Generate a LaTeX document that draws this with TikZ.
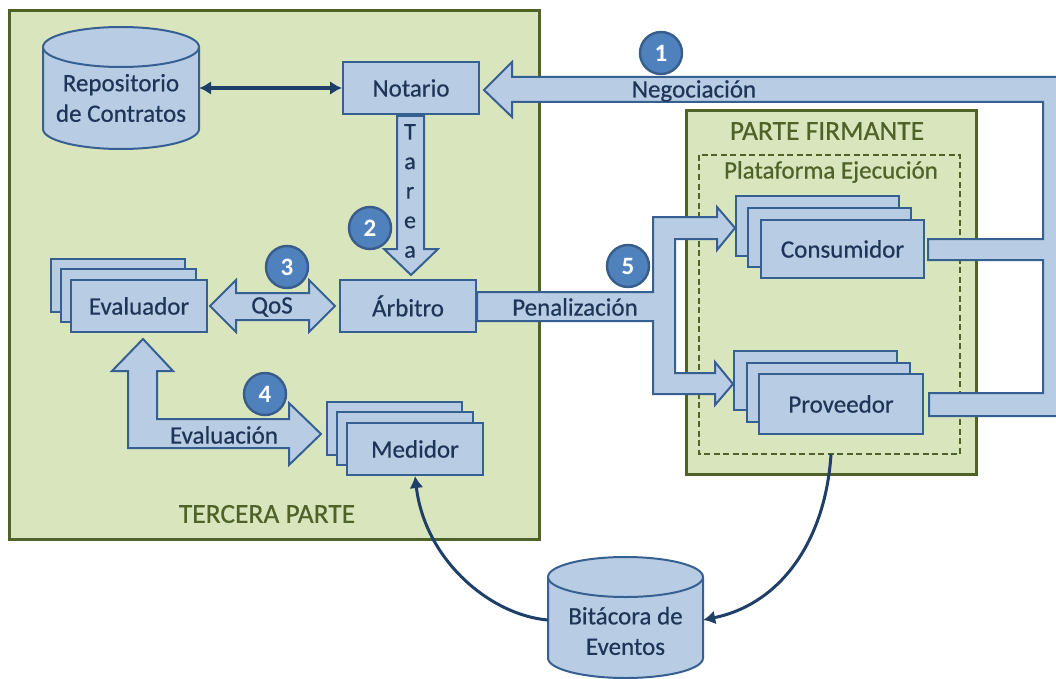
\documentclass[tikz,border=0pt]{standalone}
\usepackage{fontspec}
\setmainfont{Carlito}
\newfontfamily\dia[FakeBold=0.5]{Carlito}
\usetikzlibrary{arrows.meta}
\definecolor{gfill}{HTML}{D9E5BD}
\definecolor{gline}{HTML}{4F6228}
\definecolor{bfill}{HTML}{B8CCE4}
\definecolor{bline}{HTML}{376092}
\definecolor{dark}{HTML}{1F3F68}
\definecolor{txt}{HTML}{1F3557}
\definecolor{cfill}{HTML}{4F81BD}
\definecolor{cline}{HTML}{385D8A}
\tikzset{
  bx/.style={draw=bline,fill=bfill,line width=2pt,inner sep=0pt,text=txt,font=\dia\fontsize{25}{30}\selectfont},
  zone/.style={draw=gline,fill=gfill,line width=3pt,inner sep=0pt},
  blockarrow/.style={draw=bline,fill=bfill,line width=2pt,line join=miter},
  lbl/.style={text=txt,inner sep=0pt,font=\dia\fontsize{25}{30}\selectfont},
  glbl/.style={text=gline,inner sep=0pt,font=\dia\fontsize{27.5}{32}\selectfont},
  num/.style={circle,draw=cline,fill=cfill,line width=2.4pt,minimum size=42pt,inner sep=0pt,text=white,font=\fontsize{25}{30}\selectfont\bfseries},
  flow/.style={draw=dark,line width=3pt},
  tipa/.style={-{Latex[length=12pt,width=14pt]}},
  store/.style={draw=bline,fill=bfill,line width=2pt},
  ghost/.style={inner sep=0pt,text=txt,align=center,font=\dia\fontsize{25}{30.5}\selectfont}
}
\newcommand{\rectnode}[7][bx]{%
  \node[#1,minimum width={(#5-#3)*1pt},minimum height={(#6-#4)*1pt}] (#2) at ({(#3+#5)/2},{(#4+#6)/2}) {#7};}
\newcommand{\drum}[5]{% x1,ytop,x2,ybottom,ry
  \path[store] (#1,#2+#5) -- (#1,#4-#5) arc[start angle=180,end angle=360,x radius={(#3-#1)/2*1pt},y radius={#5*1pt}]
    -- (#3,#2+#5) arc[start angle=0,end angle=180,x radius={(#3-#1)/2*1pt},y radius={#5*1pt}] -- cycle;
  \path[store] (#1,#2+#5) arc[start angle=180,end angle=360,x radius={(#3-#1)/2*1pt},y radius={#5*1pt}];}
\begin{document}
\begin{tikzpicture}[x=1pt,y=-1pt]
\useasboundingbox (0,0) rectangle (1056,679);
% zones
\rectnode[zone]{tercera}{9}{11}{539}{539}{}
\rectnode[zone]{firmante}{686}{111}{976}{474}{}
\draw[gline,line width=1.6pt,dash pattern=on 6pt off 3.5pt] (699,155) rectangle (960,454);
\node[glbl] (tTercera) at (267,514) {TERCERA PARTE};
\node[glbl] (tFirmante) at (827,131) {PARTE FIRMANTE};
\node[glbl,font=\dia\fontsize{25}{30}\selectfont] (tPlat) at (831,172) {Plataforma Ejecución};
% stores
\drum{43}{27}{199}{149}{20}
\node[ghost,minimum width=156pt,minimum height=122pt] (repo) at (121,98) {Repositorio\\de Contratos};
\drum{548}{557}{703}{678}{20}
\node[ghost,minimum width=155pt,minimum height=121pt] (bita) at (625.5,631) {Bitácora de\\Eventos};
% boxes
\rectnode{notario}{343}{62}{479}{114}{Notario}
\rectnode{arbitro}{340}{280}{476}{332}{Árbitro}
\rectnode{evalC}{51}{259}{185}{312}{}
\rectnode{evalB}{61}{269}{196}{322}{}
\rectnode{evalA}{71}{280}{207}{332}{Evaluador}
\rectnode{medC}{327}{402}{462}{455}{}
\rectnode{medB}{337}{412}{473}{465}{}
\rectnode{medA}{347}{423}{483}{475}{Medidor}
\rectnode{conC}{736}{196}{899}{256}{}
\rectnode{conB}{748}{208}{911}{267}{}
\rectnode{conA}{761}{220}{924}{278}{Consumidor}
\rectnode{proC}{734}{351}{897}{410}{}
\rectnode{proB}{747}{363}{910}{422}{}
\rectnode{proA}{759}{374}{923}{434}{Proveedor}
% block arrows
\draw[blockarrow] (512,77)--(1060,77)--(1060,416)--(929,416)--(929,393)--(1043,393)--(1043,260)--(928,260)--(928,239)--(1043,239)--(1043,102)--(512,102)--(512,117)--(484,90)--(512,62)--cycle;
\node[lbl] (tNeg) at (694,91) {Negociación};
\draw[blockarrow] (397,116)--(424,116)--(424,249)--(438,249)--(411,275)--(384,249)--(397,249)--cycle;
\node[lbl,align=center,font=\dia\fontsize{24}{29.5}\selectfont] (tTarea) at (410,191) {T\\a\\r\\e\\a};
\draw[blockarrow] (210,306)--(236,280)--(236,293)--(309,293)--(309,280)--(335,306)--(309,332)--(309,320)--(236,320)--(236,332)--cycle;
\node[lbl] (tQos) at (272,307) {QoS};
\draw[blockarrow] (143,339)--(173,371)--(157,371)--(157,419)--(289,419)--(289,403)--(321,434)--(289,465)--(289,448)--(128,448)--(128,371)--(112,371)--cycle;
\node[lbl] (tEval) at (224,435) {Evaluación};
\draw[blockarrow] (477,292)--(653,292)--(653,217)--(717,217)--(717,207)--(735,228)--(717,250)--(717,239)--(675,239)--(675,373)--(715,373)--(715,362)--(733,384)--(715,405)--(715,394)--(653,394)--(653,321)--(477,321)--cycle;
\node[lbl] (tPen) at (575,307) {Penalización};
% thin connectors
\draw[flow,line width=4pt,{Latex[length=12pt,width=14pt]}-{Latex[length=12pt,width=14pt]}] (repo.east |- notario.west) -- (notario.west);
\coordinate (firmaOut) at (831,454);
\draw[flow,tipa] (firmaOut) .. controls (826,535) and (785,603) .. (bita.east |- 0,620);
\draw[flow,tipa] (bita.west |- 0,620) .. controls (490,615) and (425,560) .. (medA.south);
% numbers
\node[num] (n1) at (661,53) {1};
\node[num] (n2) at (370,228) {2};
\node[num] (n3) at (287,267) {3};
\node[num] (n4) at (265,394) {4};
\node[num] (n5) at (628,266) {5};
\end{tikzpicture}
\end{document}
